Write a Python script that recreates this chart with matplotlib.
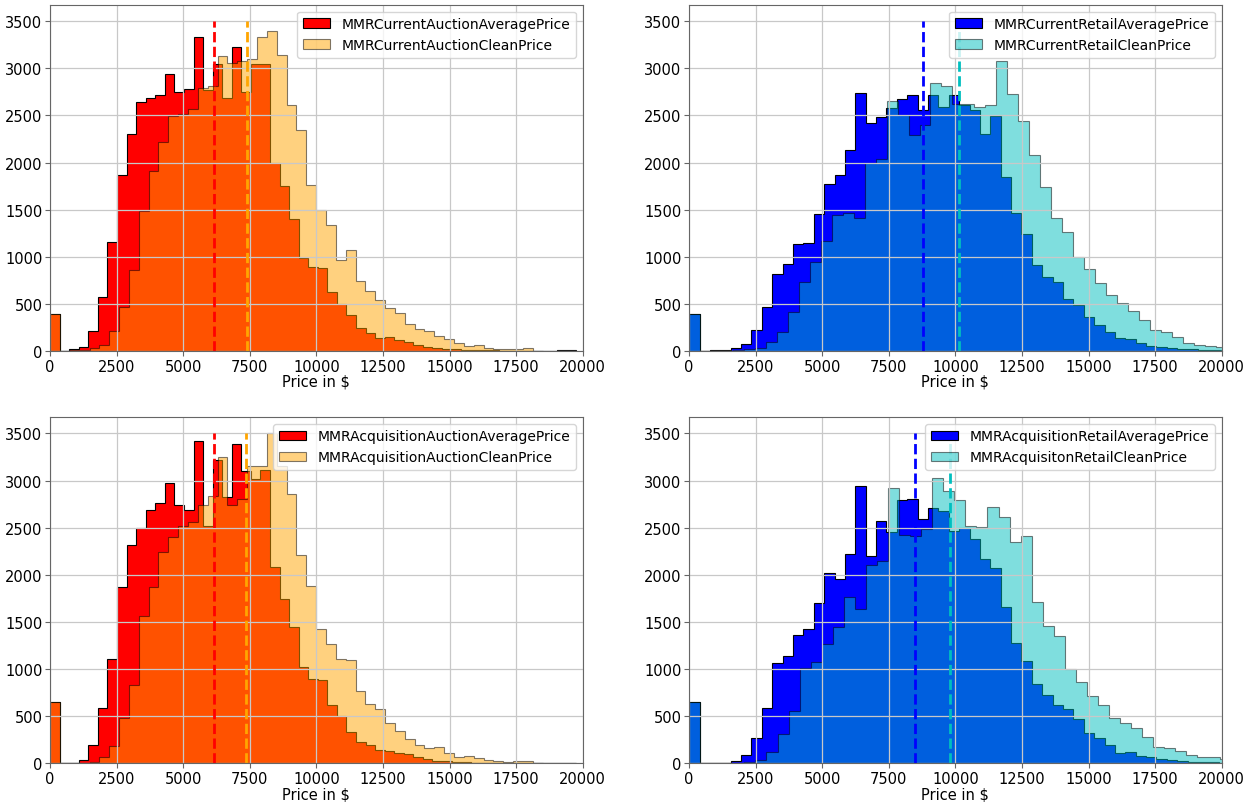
import numpy as np
import matplotlib
matplotlib.use('Agg')
import matplotlib.pyplot as plt

# bin widths ($)
w_cur_auc_avg = 359
w_cur_auc_clean = 370
w_cur_ret_avg = 390
w_cur_ret_clean = 412
w_acq_auc_avg = 359
w_acq_auc_clean = 370
w_acq_ret_avg = 390
w_acq_ret_clean = 415

# counts per bin, starting at 0
cur_auc_avg = [390, 5, 20, 45, 212, 569, 1155, 1865, 2303, 2642, 2688, 2713, 2942, 2748, 2780,
               3331, 2770, 3041, 2680, 3230, 2750, 3040, 3045, 2000, 1750, 1400, 985, 890, 880,
               630, 500, 380, 250, 190, 140, 145, 115, 100, 65, 45, 30, 25, 20, 15, 10, 10, 8,
               6, 5, 5, 5, 5, 5, 15, 10]
cur_auc_clean = [390, 0, 10, 15, 35, 64, 212, 467, 865, 1490, 1907, 2218, 2494, 2518, 2571,
                 2790, 2812, 3126, 3060, 3080, 3100, 3328, 3400, 3142, 2612, 2350, 1760, 1500,
                 1340, 970, 1070, 740, 640, 540, 460, 400, 290, 230, 210, 160, 130, 90, 50, 60,
                 30, 20, 20, 20, 30, 5]
cur_ret_avg = [390, 0, 8, 15, 28, 75, 222, 466, 823, 929, 1141, 1148, 1452, 1777, 1872, 2137,
               2741, 2423, 2483, 2582, 2677, 2720, 2554, 2713, 2590, 2713, 2610, 2560, 2306, 2494,
               1847, 1469, 1247, 911, 788, 735, 558, 494, 357, 275, 205, 141, 127, 81, 53, 42,
               32, 25, 20, 15, 10, 8]
cur_ret_clean = [390, 0, 0, 5, 10, 20, 35, 92, 205, 410, 735, 947, 1173, 1440, 1469, 1413, 2000,
                 2035, 2650, 2500, 2290, 2395, 2847, 2812, 2620, 2620, 2590, 2610, 3076, 2723,
                 2440, 2084, 1738, 1413, 1264, 1000, 869, 724, 600, 512, 424, 328, 223, 205, 152,
                 81, 64, 57, 46, 40]
acq_auc_avg = [656, 0, 3, 39, 194, 586, 1108, 1873, 2321, 2497, 2691, 2758, 2974, 2738, 2685,
               3415, 2520, 3214, 2830, 3390, 3100, 3020, 3110, 2085, 1740, 1450, 1020, 900, 880,
               625, 500, 335, 230, 200, 140, 135, 115, 100, 70, 45, 30, 25, 20, 15, 10, 10, 8,
               8, 6, 5, 5, 5, 5, 10, 10]
acq_auc_clean = [656, 0, 0, 10, 20, 70, 187, 487, 833, 1563, 1870, 2244, 2399, 2515, 2561, 2745,
                 2840, 3253, 2740, 2800, 3150, 3160, 3500, 3150, 2854, 2212, 1877, 1426, 1267,
                 1108, 1101, 773, 635, 582, 430, 342, 261, 194, 166, 173, 113, 71, 78, 60, 40,
                 30, 20, 25, 25, 10]
acq_ret_avg = [656, 0, 0, 0, 25, 88, 275, 593, 1062, 1143, 1365, 1429, 1700, 2025, 1955, 2226,
               2946, 2201, 2575, 2460, 2794, 2808, 2597, 2709, 2674, 2463, 2498, 2385, 2173, 2074,
               1662, 1281, 1087, 847, 723, 621, 575, 469, 328, 275, 194, 116, 123, 81, 64, 46,
               35, 28, 20, 18, 15, 10]
acq_ret_clean = [656, 0, 0, 0, 0, 15, 39, 123, 314, 557, 1010, 1076, 1263, 1446, 1764, 1640,
                 2110, 2152, 2921, 2427, 2417, 2491, 3030, 2893, 2790, 2523, 2508, 2717, 2614,
                 2350, 2410, 1713, 1463, 1351, 998, 864, 716, 621, 487, 434, 381, 282, 176, 162,
                 134, 92, 71, 64, 50]

# means (dashed lines)
mean_cur_auc = [6137, 7390]
mean_cur_ret = [8765, 10140]
mean_acq_auc = [6137, 7365]
mean_acq_ret = [8485, 9815]

labels_cur_auc = ['MMRCurrentAuctionAveragePrice', 'MMRCurrentAuctionCleanPrice']
labels_cur_ret = ['MMRCurrentRetailAveragePrice', 'MMRCurrentRetailCleanPrice']
labels_acq_auc = ['MMRAcquisitionAuctionAveragePrice', 'MMRAcquisitionAuctionCleanPrice']
labels_acq_ret = ['MMRAcquisitionRetailAveragePrice', 'MMRAcquisitonRetailCleanPrice']

panels = [
    (cur_auc_avg, w_cur_auc_avg, cur_auc_clean, w_cur_auc_clean, mean_cur_auc, labels_cur_auc, ('red', 'orange')),
    (cur_ret_avg, w_cur_ret_avg, cur_ret_clean, w_cur_ret_clean, mean_cur_ret, labels_cur_ret, ('blue', 'c')),
    (acq_auc_avg, w_acq_auc_avg, acq_auc_clean, w_acq_auc_clean, mean_acq_auc, labels_acq_auc, ('red', 'orange')),
    (acq_ret_avg, w_acq_ret_avg, acq_ret_clean, w_acq_ret_clean, mean_acq_ret, labels_acq_ret, ('blue', 'c')),
]

fig, axes = plt.subplots(2, 2, figsize=(12.53, 8.03), dpi=100)
plt.subplots_adjust(left=0.040, right=0.975, top=0.993, bottom=0.048, wspace=0.20, hspace=0.19)

for ax, (avg, w_avg, clean, w_clean, means, labels, colors) in zip(axes.flat, panels):
    e1 = np.arange(len(avg) + 1) * w_avg
    e2 = np.arange(len(clean) + 1) * w_clean
    ax.hist(e1[:-1], bins=e1, weights=avg, histtype='stepfilled', color=colors[0],
            edgecolor='k', lw=0.8, label=labels[0])
    ax.hist(e2[:-1], bins=e2, weights=clean, histtype='stepfilled', color=colors[1],
            edgecolor='k', lw=0.8, alpha=0.5, label=labels[1])
    ax.vlines(means[0], 0, 3500, colors=colors[0], linestyles='--', lw=2)
    ax.vlines(means[1], 0, 3500, colors=colors[1], linestyles='--', lw=2)
    ax.set_xlim(0, 20000)
    ax.set_ylim(0, 3675)
    ax.set_xticks(np.arange(0, 20001, 2500))
    ax.set_yticks(np.arange(0, 3501, 500))
    ax.grid(True, color='#c8c8c8', lw=0.9)
    ax.tick_params(axis='both', labelsize=10.5, pad=2, color='0.4')
    for s in ax.spines.values():
        s.set_color('0.4')
    ax.set_xlabel('Price in $', fontsize=10.5, labelpad=0)
    ax.legend(loc='upper right', fontsize=10)

plt.savefig('out.png')
